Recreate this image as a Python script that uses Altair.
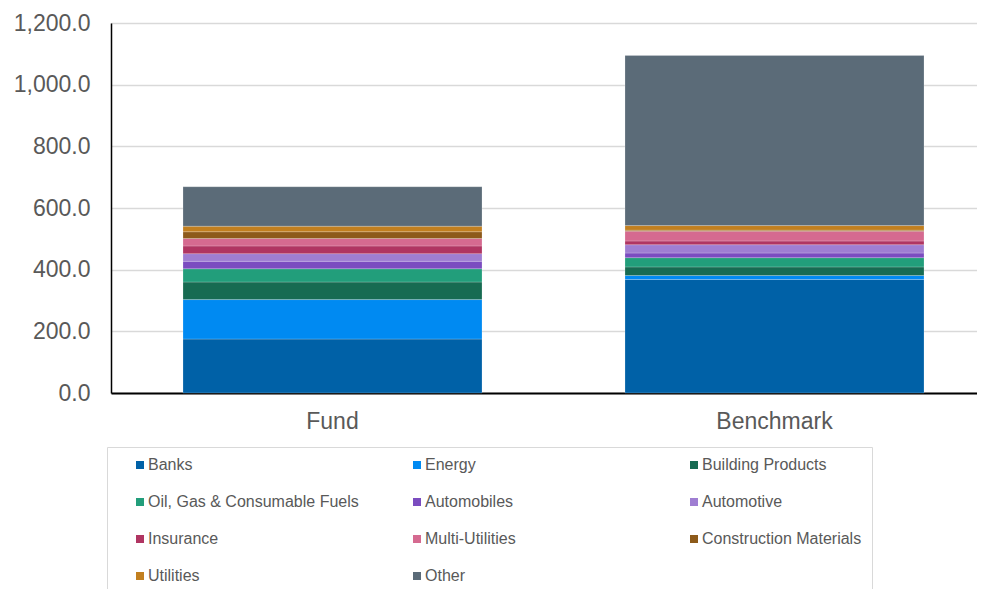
import altair as alt
import pandas as pd

categories = ["Fund", "Benchmark"]
sectors = ["Banks", "Energy", "Building Products", "Oil, Gas & Consumable Fuels",
           "Automobiles", "Automotive", "Insurance", "Multi-Utilities",
           "Construction Materials", "Utilities", "Other"]
fund_values = [175, 128, 57, 43, 24, 25, 25, 24, 22, 18, 128]
benchmark_values = [368, 13, 28, 30, 15, 27, 12, 32, 3, 15, 552]
colors = ["#0061A7", "#008AF2", "#176B52", "#229E7B", "#7B4CC0", "#9F7ED2",
          "#B03562", "#D56A90", "#8D5A1A", "#C27F1F", "#5B6B78"]
y_ticks = [0, 200, 400, 600, 800, 1000, 1200]

rows = []
for cat, vals in zip(categories, [fund_values, benchmark_values]):
    for i, (s, v) in enumerate(zip(sectors, vals)):
        rows.append({"category": cat, "sector": s, "value": v, "order": i})
df = pd.DataFrame(rows)

FONT = "Liberation Sans"
TXT = "#595959"

chart = alt.Chart(df).mark_bar(stroke="white", strokeWidth=0.6, strokeOpacity=0.35).encode(
    x=alt.X("category:N", sort=categories, title=None,
            scale=alt.Scale(paddingInner=0.3235, paddingOuter=0.1414, align=0.576),
            axis=alt.Axis(labelAngle=0, labelFontSize=23, labelColor=TXT, labelFont=FONT,
                          domainColor="black", domainWidth=2, ticks=False, labelPadding=17)),
    y=alt.Y("value:Q", stack="zero", title=None,
            scale=alt.Scale(domain=[0, 1200], nice=False),
            axis=alt.Axis(values=y_ticks, format=",.1f", labelFontSize=23, labelColor=TXT,
                          labelFont=FONT, domainColor="black", domainWidth=1.5, ticks=False,
                          gridColor="#d9d9d9", gridWidth=1.5, labelPadding=21)),
    color=alt.Color("sector:N", scale=alt.Scale(domain=sectors, range=colors),
                    legend=alt.Legend(orient="none", legendX=-4, legendY=424, columns=3,
                                      direction="horizontal",
                                      title=None, gridAlign="all", columnPadding=35,
                                      rowPadding=21, padding=10, symbolOffset=15,
                                      symbolType="square", symbolSize=64,
                                      symbolStrokeWidth=0, labelFontSize=16,
                                      labelFont=FONT, labelColor=TXT, labelLimit=320,
                                      labelOffset=0, strokeColor="#d9d9d9",
                                      fillColor="white")),
    order=alt.Order("order:Q", sort="ascending"),
).properties(
    width=866, height=370,
    autosize=alt.AutoSizeParams(type="none"),
    padding={"left": 103, "top": 15, "right": 0, "bottom": 196},
).configure_view(stroke=None).configure(background="white")

chart.save("out.html", embed_options={"renderer": "svg", "actions": False})
